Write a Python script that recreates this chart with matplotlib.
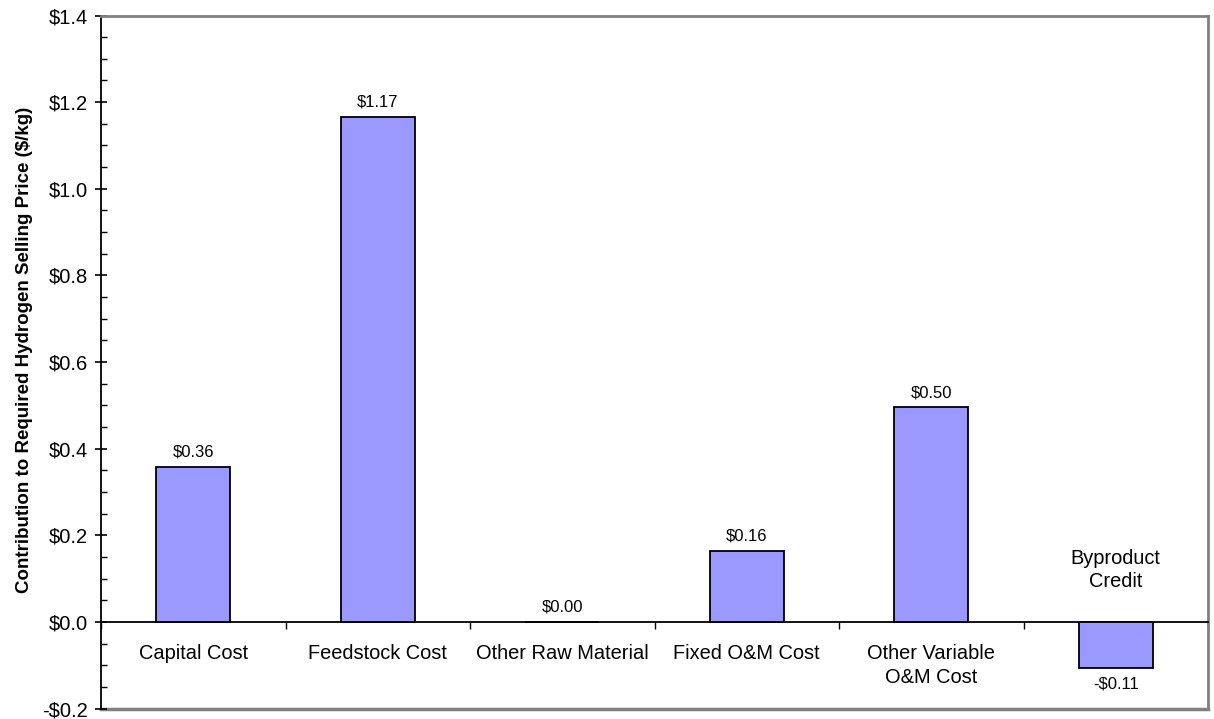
import matplotlib.pyplot as plt
import numpy as np

plt.rcParams['font.family'] = ['Liberation Sans', 'DejaVu Sans']

# data
categories = ['Capital Cost', 'Feedstock Cost', 'Other Raw Material',
              'Fixed O&M Cost', 'Other Variable\nO&M Cost', 'Byproduct\nCredit']
values = [0.358, 1.166, 0.0, 0.164, 0.496, -0.107]
y_ticks = [-0.2, 0.0, 0.2, 0.4, 0.6, 0.8, 1.0, 1.2, 1.4]


def money(v, decimals):
    s = '$%.*f' % (decimals, abs(v))
    return '-' + s if v < 0 else s


fig = plt.figure(figsize=(12.14, 7.19), dpi=100)
ax = fig.add_axes([0.0832, 0.0146, 0.9119, 0.9638])

x = np.arange(len(categories)) + 0.5
bars = ax.bar(x, values, width=0.4, color='#9999ff', edgecolor='black', linewidth=1.3, zorder=3)

ax.set_xlim(0, len(categories))
ax.set_ylim(y_ticks[0], y_ticks[-1])

# frame: gray box, black left spine, black zero line carrying the category ticks
for s in ['top', 'right']:
    ax.spines[s].set_color('#808080')
    ax.spines[s].set_linewidth(2)
ax.spines['left'].set_color('black')
ax.spines['left'].set_linewidth(1.3)
ax.spines['bottom'].set_position(('data', 0))
ax.spines['bottom'].set_color('black')
ax.spines['bottom'].set_linewidth(1.3)
ax.axhline(y_ticks[0], color='#808080', lw=2.5, clip_on=False, zorder=1)

ax.set_yticks(y_ticks)
ax.set_yticklabels([money(v, 1) for v in y_ticks], fontsize=14.5)
ax.set_yticks(np.arange(-0.2, 1.401, 0.05), minor=True)
ax.tick_params(axis='y', which='major', direction='inout', length=9, width=1.2, pad=5)
ax.tick_params(axis='y', which='minor', direction='in', length=4, width=1.0)

ax.set_xticks(np.arange(len(categories) + 1))
ax.set_xticklabels([])
ax.tick_params(axis='x', which='major', direction='out', length=5, width=1.0, color='black')

ax.set_ylabel('Contribution to Required Hydrogen Selling Price ($/kg)',
              fontsize=13.5, fontweight='bold')
ax.yaxis.set_label_coords(-0.0615, 0.518)

for xi, v, name in zip(x, values, categories):
    if v >= 0:
        ax.annotate(money(v, 2), (xi, v), xytext=(0, 5), textcoords='offset points',
                    ha='center', va='bottom', fontsize=12)
        ax.annotate(name, (xi, 0), xytext=(0, -16), textcoords='offset points',
                    ha='center', va='top', fontsize=14.4, linespacing=1.3)
    else:
        ax.annotate(money(v, 2), (xi, v), xytext=(0, -6), textcoords='offset points',
                    ha='center', va='top', fontsize=12)
        ax.annotate(name, (xi, 0), xytext=(0, 22), textcoords='offset points',
                    ha='center', va='bottom', fontsize=14.4, linespacing=1.3)

fig.savefig('out.png', dpi=100)
